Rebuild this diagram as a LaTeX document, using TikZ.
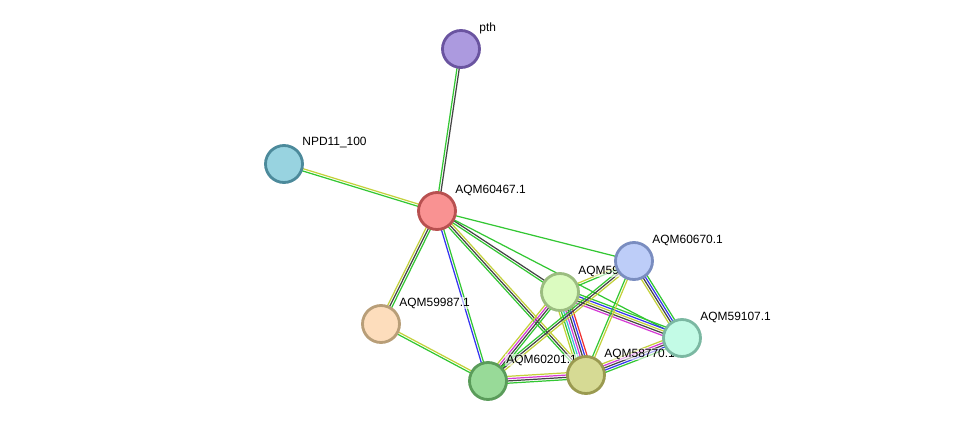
\documentclass[tikz,border=0pt]{standalone}
\usepackage{fontspec}
\setmainfont{Liberation Sans}
\usetikzlibrary{calc}

\definecolor{evgreen}{HTML}{33C733}
\definecolor{evyellow}{HTML}{C3D13A}
\definecolor{evblack}{HTML}{444444}
\definecolor{evblue}{HTML}{3535F0}
\definecolor{evmagenta}{HTML}{D53BD5}
\definecolor{evred}{HTML}{F03030}
\definecolor{evcyan}{HTML}{3DBDE0}

\pgfdeclarelayer{edges}
\pgfdeclarelayer{names}
\pgfsetlayers{edges,names,main}

\tikzstyle{protein}=[circle, draw, line width=1.6pt, minimum size=0.74cm, inner sep=0pt]
\tikzstyle{protname}=[anchor=west, inner sep=0.6pt, fill=white, fill opacity=0.6, text opacity=1, font=\fontsize{6.8}{8}\selectfont]
\tikzstyle{evidence}=[line width=0.7pt]

% bundle of parallel evidence lines: from, to, count, colours
\newcommand{\bundle}[4]{%
  \foreach \col [count=\i] in {#4} {
    \pgfmathsetmacro{\off}{(\i-(#3+1)/2)*1.3}
    \draw[evidence, \col] ($(#1)!\off pt!90:(#2)$) -- ($(#2)!\off pt!-90:(#1)$);
  }%
}

\begin{document}
\begin{tikzpicture}[x=0.02cm, y=-0.02cm]
      \useasboundingbox (0,0) rectangle (975,427);

      \node[protein, fill={rgb,255:red,172;green,154;blue,223}, draw={rgb,255:red,106;green,84;blue,160}] (pth) at (461, 49) {};
      \node[protein, fill={rgb,255:red,152;green,211;blue,224}, draw={rgb,255:red,76;green,138;blue,155}] (npd) at (284, 164) {};
      \node[protein, fill={rgb,255:red,249;green,146;blue,146}, draw={rgb,255:red,184;green,80;blue,80}] (q60467) at (437, 211) {};
      \node[protein, fill={rgb,255:red,189;green,205;blue,248}, draw={rgb,255:red,122;green,141;blue,192}] (q60670) at (634, 261) {};
      \node[protein, fill={rgb,255:red,219;green,251;blue,192}, draw={rgb,255:red,155;green,189;blue,128}] (q59) at (560, 292) {};
      \node[protein, fill={rgb,255:red,253;green,221;blue,188}, draw={rgb,255:red,184;green,158;blue,120}] (q59987) at (381, 324) {};
      \node[protein, fill={rgb,255:red,195;green,251;blue,230}, draw={rgb,255:red,123;green,184;blue,162}] (q59107) at (682, 338) {};
      \node[protein, fill={rgb,255:red,152;green,218;blue,152}, draw={rgb,255:red,90;green,156;blue,90}] (q60201) at (488, 381) {};
      \node[protein, fill={rgb,255:red,214;green,218;blue,148}, draw={rgb,255:red,154;green,154;blue,80}] (q58770) at (586, 375) {};

      \begin{pgfonlayer}{names}
        \node[protname] (tpth) at ($(pth)+(17,-21)$) {pth};
        \node[protname] (tnpd) at ($(npd)+(17,-21)$) {NPD11\_100};
        \node[protname] (t60467) at ($(q60467)+(17,-21)$) {AQM60467.1};
        \node[protname] (t60670) at ($(q60670)+(17,-21)$) {AQM60670.1};
        \node[protname] (t59) at ($(q59)+(17,-21)$) {AQM59};
        \node[protname] (t59987) at ($(q59987)+(17,-21)$) {AQM59987.1};
        \node[protname] (t59107) at ($(q59107)+(17,-21)$) {AQM59107.1};
        \node[protname] (t60201) at ($(q60201)+(17,-21)$) {AQM60201.1};
        \node[protname] (t58770) at ($(q58770)+(17,-21)$) {AQM58770.1};
      \end{pgfonlayer}

      \begin{pgfonlayer}{edges}
        \bundle{pth}{q60467}{2}{evgreen,evblack}
        \bundle{npd}{q60467}{2}{evgreen,evyellow}
        \bundle{q60467}{q60670}{1}{evgreen}
        \bundle{q60467}{q59}{2}{evgreen,evblack}
        \bundle{q60467}{q59107}{1}{evgreen}
        \bundle{q60467}{q59987}{3}{evyellow,evblack,evgreen}
        \bundle{q60467}{q60201}{2}{evblue,evgreen}
        \bundle{q60467}{q58770}{3}{evgreen,evblack,evyellow}
        \bundle{q59987}{q60201}{2}{evgreen,evyellow}
        \bundle{q59}{q60201}{4}{evyellow,evmagenta,evblack,evgreen}
        \bundle{q59}{q58770}{7}{evyellow,evgreen,evcyan,evmagenta,evblack,evblue,evred}
        \bundle{q59}{q59107}{5}{evmagenta,evblack,evyellow,evblue,evgreen}
        \bundle{q59}{q60670}{2}{evgreen,evyellow}
        \bundle{q60670}{q60201}{3}{evgreen,evblack,evyellow}
        \bundle{q60670}{q58770}{2}{evgreen,evyellow}
        \bundle{q60670}{q59107}{4}{evyellow,evblack,evblue,evgreen}
        \bundle{q60201}{q58770}{4}{evgreen,evblack,evmagenta,evyellow}
        \bundle{q58770}{q59107}{5}{evgreen,evblue,evblack,evmagenta,evyellow}
      \end{pgfonlayer}
    \end{tikzpicture}
\end{document}
